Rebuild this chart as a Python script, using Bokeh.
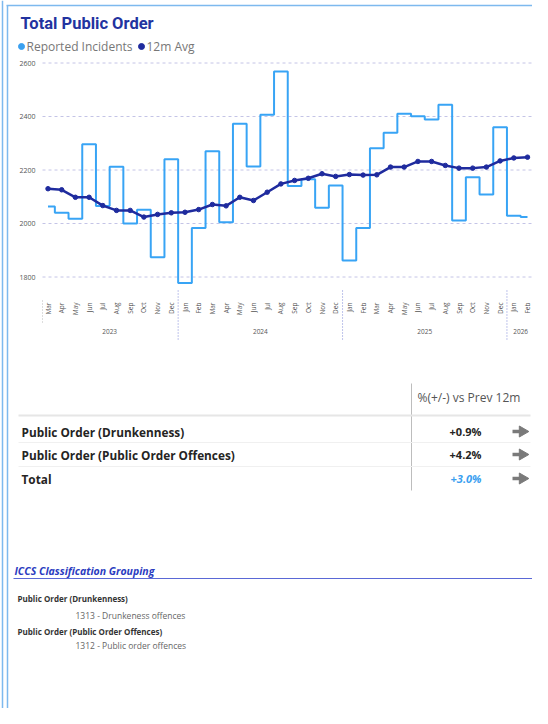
import math
from bokeh.plotting import figure
from bokeh.models import Range1d
from bokeh.core.properties import value
from bokeh.embed import file_html
from bokeh.resources import INLINE

# ---------------- data ----------------
months = ["Mar", "Apr", "May", "Jun", "Jul", "Aug", "Sep", "Oct", "Nov", "Dec",
          "Jan", "Feb", "Mar", "Apr", "May", "Jun", "Jul", "Aug", "Sep", "Oct", "Nov", "Dec",
          "Jan", "Feb", "Mar", "Apr", "May", "Jun", "Jul", "Aug", "Sep", "Oct", "Nov", "Dec",
          "Jan", "Feb"]
years = ["2023", "2024", "2025", "2026"]
year_centers = [4.5, 15.5, 27.5, 34.5]
year_breaks = [9.5, 21.5, 33.5]
reported = [2064, 2040, 2018, 2296, 2065, 2212, 2000, 2051, 1874, 2240,
            1778, 1983, 2270, 2005, 2373, 2213, 2407, 2568, 2140, 2165, 2059, 2142,
            1862, 1983, 2281, 2339, 2410, 2401, 2389, 2444, 2011, 2173, 2108, 2360,
            2029, 2024]
avg12 = [2130, 2126, 2098, 2098, 2067, 2049, 2049, 2024, 2034, 2040,
         2042, 2052, 2071, 2066, 2098, 2086, 2117, 2148, 2161, 2169, 2186, 2176,
         2183, 2181, 2182, 2211, 2211, 2232, 2232, 2217, 2207, 2207, 2211, 2234,
         2245, 2248]
y_ticks = [1800, 2000, 2200, 2400, 2600]
y_tick_labels = ["1800", "2000", "2200", "2400", "2600"]

table_rows = ["Public Order (Drunkenness)", "Public Order (Public Order Offences)", "Total"]
table_values = ["+0.9%", "+4.2%", "+3.0%"]
table_header = "%(+/-) vs Prev 12m"

iccs_groups = ["Public Order (Drunkenness)", "Public Order (Public Order Offences)"]
iccs_codes = ["1313 - Drunkeness offences", "1312 - Public order offences"]

# ---------------- layout helpers ----------------
W, H = 532, 708
X0, DX = 47.5, 13.7           # x of first month centre, px per month
Y_REF, V_REF, PXU = 223.0, 2000.0, 0.2675


def i_at(px):
    return (px - X0) / DX


def v_at(py):
    return V_REF + (Y_REF - py) / PXU


p = figure(width=W, height=H,
           x_range=Range1d(i_at(0), i_at(W)),
           y_range=Range1d(v_at(H), v_at(0)),
           output_backend="svg", toolbar_location=None,
           x_axis_location=None, y_axis_location=None, min_border=0)
p.extra_x_ranges = {"px": Range1d(0, W)}
p.extra_y_ranges = {"px": Range1d(H, 0)}
p.grid.visible = False
p.outline_line_color = None
p.background_fill_color = "white"
p.border_fill_color = "white"

PX = dict(x_range_name="px", y_range_name="px")
FONT = value("Open Sans")

# frame borders
p.segment(x0=[6, 7, 2], y0=[5, 5, 0], x1=[W, 7, 2], y1=[5, H, H],
          line_color="#7db9ee", line_width=[1.5, 1.5, 1.5], **PX)

# title + legend
p.text(x=[20], y=[23], text=["Total Public Order"], text_font=value("Roboto"), text_font_style="bold",
       text_font_size="16.5px", text_color="#2233a0", text_baseline="middle", **PX)
p.scatter(x=[21], y=[46], size=6, color="#3aa0f0", **PX)
p.scatter(x=[141], y=[46], size=6, color="#1f2b9e", **PX)
p.text(x=[26, 146], y=[46, 46], text=["Reported Incidents", "12m Avg"], text_font=FONT,
       text_font_size="12px", text_color="#777777", text_baseline="middle", **PX)

# gridlines + y labels
gx0 = i_at(42)
gx1 = i_at(W)
p.segment(x0=[gx0] * len(y_ticks), x1=[gx1] * len(y_ticks), y0=y_ticks, y1=y_ticks,
          line_color="#c4c4e6", line_dash="3 3", line_width=1)
p.text(x=[i_at(35)] * len(y_ticks), y=y_ticks, text=y_tick_labels, text_font=FONT,
       text_font_size="7px", text_color="#555555", text_align="right", text_baseline="middle")

# series
xs = list(range(len(months)))
p.step(x=xs, y=reported, mode="center", line_color="#38a4f5", line_width=2)
p.line(x=xs, y=avg12, line_color="#1f2b9e", line_width=2.5)
p.scatter(x=xs, y=avg12, size=4.5, color="#1f2b9e")

# x labels
p.text(x=xs, y=[v_at(302)] * len(xs), text=months, angle=math.pi / 2, text_font=FONT,
       text_font_size="6.5px", text_color="#555555", text_align="right", text_baseline="middle")
p.text(x=year_centers, y=[v_at(331)] * len(years), text=years, text_font=FONT,
       text_font_size="6.5px", text_color="#555555", text_align="center", text_baseline="middle")
p.segment(x0=year_breaks, x1=year_breaks, y0=[v_at(290)] * 3, y1=[v_at(341)] * 3,
          line_color="#7f8ad8", line_dash="1 2", line_width=1)
p.segment(x0=[i_at(42)], x1=[i_at(42)], y0=[v_at(300)], y1=[v_at(322)],
          line_color="#bbbbbb", line_dash="1 2", line_width=1)

# table
p.segment(x0=[411], x1=[411], y0=[383], y1=[490], line_color="#bdbdbd", line_width=1, **PX)
p.text(x=[417], y=[397], text=[table_header], text_font=FONT, text_font_size="12px",
       text_color="#555555", text_baseline="middle", **PX)
p.segment(x0=[18], x1=[530], y0=[415], y1=[415], line_color="#e6e6e6", line_width=2, **PX)
p.segment(x0=[18, 18], x1=[530, 530], y0=[442, 466], y1=[442, 466], line_color="#f0f0f0", line_width=1, **PX)
row_y = [431, 454, 478]
p.text(x=[21] * 3, y=row_y, text=table_rows, text_font=FONT, text_font_style="bold",
       text_font_size="11.8px", text_color="#252423", text_baseline="middle", **PX)
p.text(x=[481] * 2, y=row_y[:2], text=table_values[:2], text_font=FONT, text_font_style="bold",
       text_font_size="11px", text_color="#252423", text_align="right", text_baseline="middle", **PX)
p.text(x=[481], y=row_y[2:], text=table_values[2:], text_font=FONT, text_font_style="bold italic",
       text_font_size="11px", text_color="#3aa0f0", text_align="right", text_baseline="middle", **PX)
# arrows (shaft + head)
p.segment(x0=[512] * 3, x1=[521] * 3, y0=row_y, y1=row_y, line_color="#7a7a7a", line_width=3.5, **PX)
p.scatter(x=[522] * 3, y=row_y, marker="triangle", angle=-math.pi / 2, size=11,
          color="#7a7a7a", **PX)

# ICCS section
p.text(x=[14], y=[570], text=["ICCS Classification Grouping"], text_font=FONT,
       text_font_style="bold italic", text_font_size="10.5px", text_color="#2b3cbf",
       text_baseline="middle", **PX)
p.segment(x0=[13], x1=[W], y0=[578], y1=[578], line_color="#5a68d6", line_width=1, **PX)
p.text(x=[17, 17], y=[598, 631], text=iccs_groups, text_font=FONT, text_font_style="bold",
       text_font_size="8px", text_color="#333333", text_baseline="middle", **PX)
p.text(x=[75, 75], y=[615, 645], text=iccs_codes, text_font=FONT,
       text_font_size="8.5px", text_color="#666666", text_baseline="middle", **PX)

open("out.html", "w").write(file_html(p, INLINE))
